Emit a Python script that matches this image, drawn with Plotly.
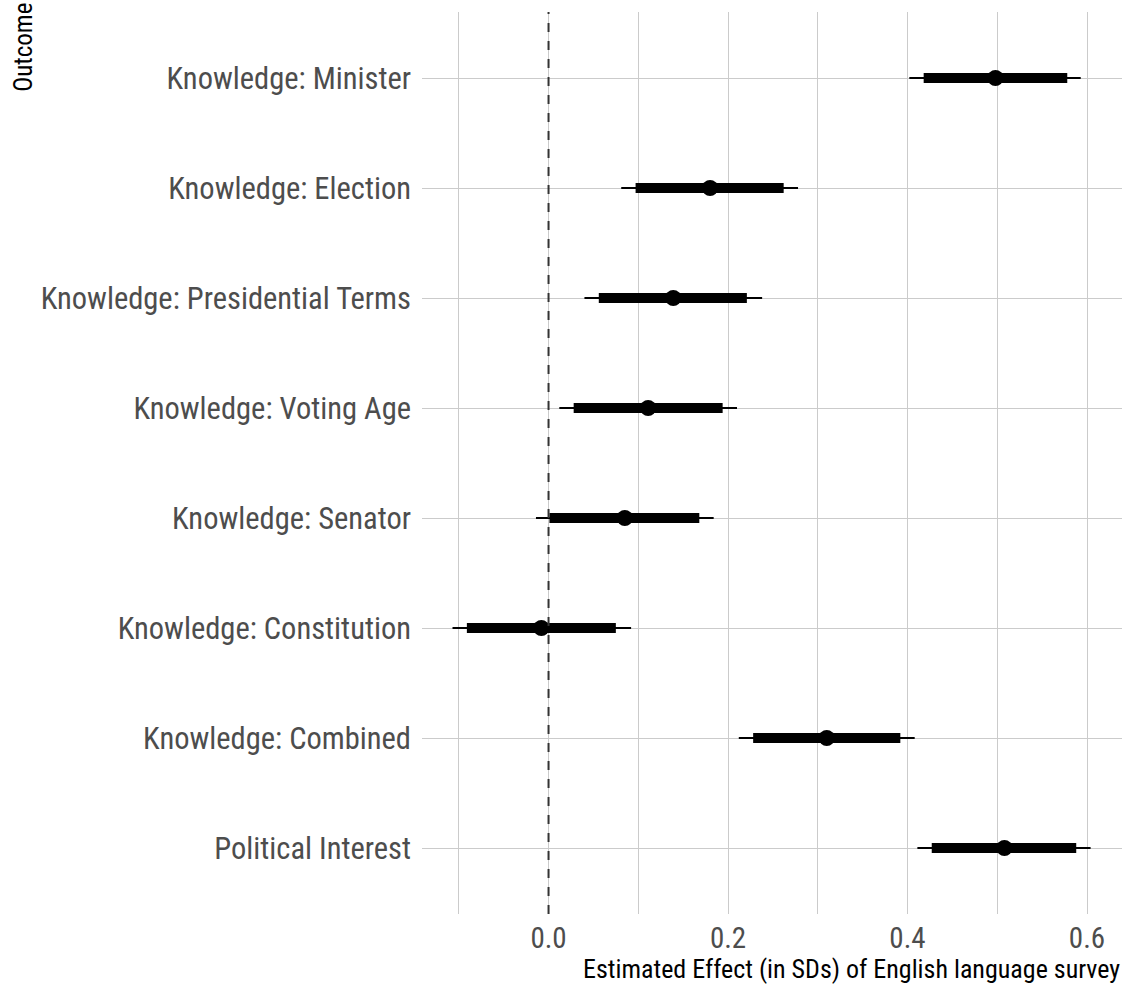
import plotly.graph_objects as go

# Outcomes, bottom to top
outcomes = [
    "Political Interest",
    "Knowledge: Combined",
    "Knowledge: Constitution",
    "Knowledge: Senator",
    "Knowledge: Voting Age",
    "Knowledge: Presidential Terms",
    "Knowledge: Election",
    "Knowledge: Minister",
]
estimate = [0.508, 0.310, -0.008, 0.085, 0.111, 0.139, 0.180, 0.498]
inner_lo = [0.427, 0.228, -0.091, 0.001, 0.028, 0.056, 0.097, 0.418]
inner_hi = [0.588, 0.392, 0.075, 0.168, 0.194, 0.221, 0.262, 0.578]
outer_lo = [0.411, 0.212, -0.107, -0.014, 0.012, 0.040, 0.081, 0.402]
outer_hi = [0.604, 0.408, 0.092, 0.184, 0.210, 0.238, 0.278, 0.593]

major_ticks = [0.0, 0.2, 0.4, 0.6]
major_labels = ["0.0", "0.2", "0.4", "0.6"]
minor_ticks = [-0.1, 0.1, 0.3, 0.5]

FONT = "Liberation Sans Narrow, Arial Narrow, Roboto Condensed, Liberation Sans, sans-serif"
GRID = "#cbcbcb"


def segments(lo, hi, cats):
    xs, ys = [], []
    for a, b, c in zip(lo, hi, cats):
        xs += [a, b, None]
        ys += [c, c, None]
    return xs, ys


fig = go.Figure()

ox, oy = segments(outer_lo, outer_hi, outcomes)
fig.add_trace(go.Scatter(x=ox, y=oy, mode="lines",
                         line=dict(color="black", width=2), hoverinfo="skip",
                         showlegend=False))
ix, iy = segments(inner_lo, inner_hi, outcomes)
fig.add_trace(go.Scatter(x=ix, y=iy, mode="lines",
                         line=dict(color="black", width=10), hoverinfo="skip",
                         showlegend=False))
fig.add_trace(go.Scatter(x=estimate, y=outcomes, mode="markers",
                         marker=dict(color="black", size=16),
                         showlegend=False))

# Reference line at zero effect
fig.add_shape(type="line", xref="x", yref="paper", x0=0, x1=0, y0=0, y1=1,
              line=dict(color="#333333", width=2, dash="dash"), layer="above")

fig.update_layout(
    width=1127, height=986,
    margin=dict(l=422, r=5, t=12, b=72),
    paper_bgcolor="white", plot_bgcolor="white",
    font=dict(family=FONT, color="#4d4d4d"),
    xaxis=dict(
        range=[-0.141, 0.639],
        tickvals=major_ticks, ticktext=major_labels,
        showgrid=True, gridcolor=GRID, gridwidth=1.4,
        zeroline=False, showline=False, ticks="",
        tickfont=dict(size=29, color="#4d4d4d", family=FONT),
        ticklabelstandoff=4,
        minor=dict(tickvals=minor_ticks, showgrid=True,
                   gridcolor=GRID, gridwidth=1.4, ticks=""),
    ),
    yaxis=dict(
        type="category", categoryorder="array", categoryarray=outcomes,
        range=[-0.6, 7.6],
        showgrid=True, gridcolor=GRID, gridwidth=1.4,
        zeroline=False, showline=False, ticks="",
        tickfont=dict(size=30.5, color="#4d4d4d", family=FONT),
        ticklabelstandoff=10,
    ),
    annotations=[
        dict(text="Outcome", xref="paper", yref="paper",
             x=-0.592, y=1.012, xanchor="left", yanchor="top",
             textangle=-90, showarrow=False,
             font=dict(size=25, color="black", family=FONT)),
        dict(text="Estimated Effect (in SDs) of English language survey",
             xref="paper", yref="paper", x=1.0, y=-0.042,
             xanchor="right", yanchor="top", showarrow=False,
             font=dict(size=26, color="black", family=FONT)),
    ],
)

fig.write_html("out.html")
